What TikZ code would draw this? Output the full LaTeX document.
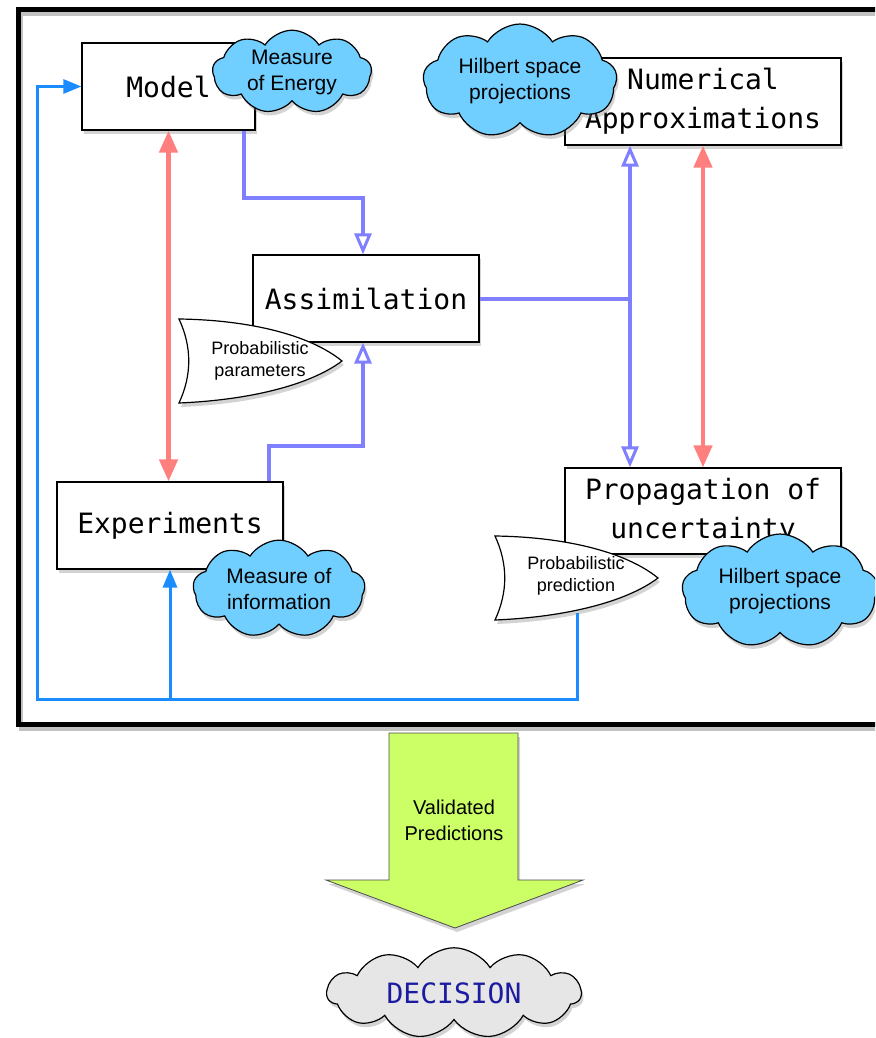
\documentclass[tikz,border=0pt]{standalone}
\usepackage{fontspec}
\setmainfont{Liberation Sans}
\newfontfamily\monof{DejaVu Sans Mono}
\usetikzlibrary{arrows.meta,shapes.symbols,shadows,calc}
\definecolor{redc}{HTML}{FF7F7F}
\definecolor{purc}{HTML}{7F7FFF}
\definecolor{bluec}{HTML}{1A8CFF}
\definecolor{cloudc}{HTML}{70CFFF}
\definecolor{greenc}{HTML}{CCFF66}
\definecolor{grayc}{HTML}{E6E6E6}
\definecolor{decc}{HTML}{1C1CA0}
\begin{document}
\begin{tikzpicture}[x=1pt,y=-1pt,
  shd/.style={drop shadow={opacity=0.35, shadow xshift=2pt, shadow yshift=-4pt}},
  box/.style={draw=black, line width=1.2pt, fill=white, shd, align=center, inner sep=0pt,
    font=\monof\fontsize{28}{39}\selectfont},
  cloudbox/.style={cloud, cloud puffs=9, cloud puff arc=115, aspect=2, draw=black,
    line width=1.2pt, fill=cloudc, shd, inner sep=0pt, align=center,
    font=\fontsize{21}{26}\selectfont},
  probsh/.style={draw=black, line width=1.2pt, fill=white, shd},
  probtxt/.style={align=center, inner sep=0pt, font=\fontsize{18}{22}\selectfont},
  redline/.style={draw=redc, line width=4.5pt, {Triangle[length=22pt,width=18pt]}-{Triangle[length=22pt,width=18pt]}},
  purline/.style={draw=purc, line width=4pt},
  puropen/.style={-{Triangle[open,length=21pt,width=17pt,line width=3pt]}},
  blueline/.style={draw=bluec, line width=3pt},
  bluetip/.style={-{Triangle[length=18pt,width=14pt]}}
]
\useasboundingbox (0,0) rectangle (875,1038);
\clip (0,0) rectangle (875,1038);

% frame
\draw[gray!70, opacity=0.7, line width=4.5pt] (21,14) rectangle (903,729);
\draw[black, line width=4.5pt] (18.5,9.5) rectangle (900,724.5);

% boxes
\node[box, minimum width=173pt, minimum height=87pt] (model) at (168.5,86.5) {Model};
\node[box, minimum width=276pt, minimum height=87pt] (num) at (703,101.5) {Numerical\\Approximations};
\node[box, minimum width=226pt, minimum height=87pt] (assim) at (366,298.5) {Assimilation};
\node[box, minimum width=226pt, minimum height=87pt] (exp) at (170,525.5) {Experiments};
\node[box, minimum width=276pt, minimum height=86pt] (prop) at (703,511) {Propagation of\\uncertainty};

% connectors
\draw[redline] (model.south) -- (model.south |- exp.north);
\draw[redline] (num.south) -- (prop.north);

\coordinate (m1) at ([xshift=-12pt]model.south east);
\draw[purline, puropen] (m1) -- (m1 |- 0,198) -| ([xshift=-3pt]assim.north);
\coordinate (e1) at ([xshift=-15pt]exp.north east);
\draw[purline, puropen] (e1) -- (e1 |- 0,446) -| ([xshift=-3pt]assim.south);
\coordinate (vn) at ([xshift=-73pt]num.south);
\coordinate (vp) at ([xshift=-73pt]prop.north);
\draw[purline, puropen] (vn |- assim.east) -- (vp);
\draw[purline, puropen] (vn |- assim.east) -- (vn);
\draw[purline] (assim.east) -- (vn |- assim.east);

% probabilistic shapes
\begin{scope}[shift={(260,361)}]
\draw[probsh] (-81,-42) .. controls (-10,-41) and (50,-26) .. (82,0)
  .. controls (50,24) and (-10,39) .. (-81,42)
  .. controls (-68,14) and (-68,-14) .. cycle;
\node[probtxt] (ppar) at (0,0) {Probabilistic\\parameters};
\end{scope}
\begin{scope}[shift={(576,578)}]
\draw[probsh] (-81,-42) .. controls (-10,-41) and (50,-26) .. (82,0)
  .. controls (50,24) and (-10,39) .. (-81,42)
  .. controls (-68,14) and (-68,-14) .. cycle;
\node[probtxt] (ppred) at (0,-2) {Probabilistic\\prediction};
\coordinate (ppb) at (1,35);
\end{scope}

% blue feedback loop
\coordinate (bl) at (37,699);
\draw[blueline, bluetip] (ppb) |- (bl) |- (model.west);
\draw[blueline, bluetip] (bl -| exp.south) -- (exp.south);

% clouds
\node[cloudbox, minimum width=159pt, minimum height=79pt] (me) at (292,72) {Measure\\of Energy};
\node[cloudbox, minimum width=194pt, minimum height=94pt] (h1) at (520,81) {Hilbert space\\projections};
\node[cloudbox, minimum width=172pt, minimum height=92pt] (mi) at (279,589) {Measure of\\information};
\node[cloudbox, minimum width=196pt, minimum height=102pt] (h2) at (780,591) {Hilbert space\\projections};

% validated predictions arrow
\draw[draw=gray!60!black, line width=0.8pt, fill=greenc, shd]
  (389,733) -- (518,733) -- (518,880) -- (583,880) -- (455,928) -- (326,880) -- (389,880) -- cycle;
\node[align=center, inner sep=0pt, font=\fontsize{20}{26}\selectfont] (valid) at (454,820) {Validated\\Predictions};

% decision cloud
\node[cloud, cloud puffs=11, cloud puff arc=115, aspect=3, draw=black, line width=1.2pt,
  fill=grayc, shd, inner sep=0pt, minimum width=254pt, minimum height=88pt,
  text=decc, font=\monof\fontsize{28}{34}\selectfont] (dec) at (454,993) {DECISION};
\end{tikzpicture}
\end{document}
